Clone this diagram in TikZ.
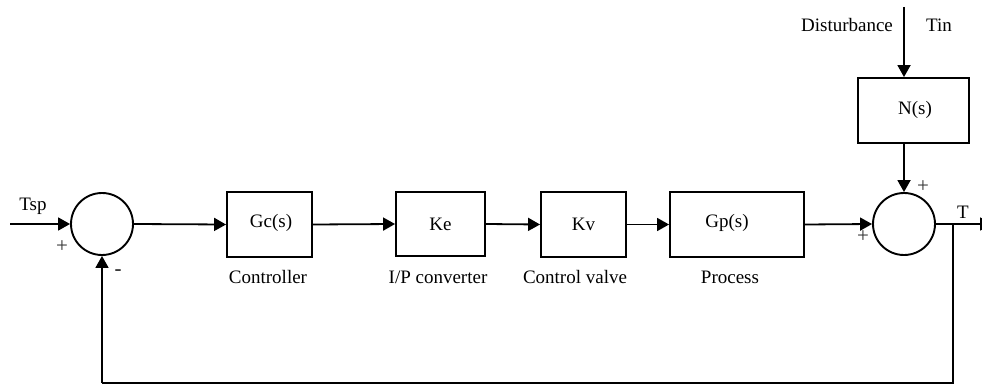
\documentclass[tikz,border=0pt]{standalone}
\usepackage{fontspec}
\setmainfont{Liberation Serif}
\usetikzlibrary{arrows.meta}
\begin{document}
\begin{tikzpicture}[x=1pt,y=-1pt,
  blk/.style={draw,line width=1.9pt,inner sep=0pt,font=\fontsize{19}{22}\selectfont},
  sumc/.style={draw,circle,line width=1.9pt,minimum size=62pt,inner sep=0pt},
  lbl/.style={font=\fontsize{19}{22}\selectfont,inner sep=0pt},
  sgn/.style={font=\fontsize{21}{24}\selectfont,inner sep=0pt,text=black!80},
  conn/.style={line width=1.8pt,-{Triangle[length=12pt,width=13pt]}},
  wire/.style={line width=1.8pt}]
\useasboundingbox (0,0) rectangle (982,385);
% summing junctions
\node[sumc] (s1) at (102,224) {};
\node[sumc] (s2) at (904,224) {};
% blocks
\node[blk,minimum width=85pt,minimum height=65pt] (gc) at (269.5,224.5) {};
\node[lbl] at (271,223) {Gc(s)};
\node[blk,minimum width=89pt,minimum height=64pt] (ke) at (440.5,224) {Ke};
\node[blk,minimum width=85pt,minimum height=65pt] (kv) at (583.5,224.5) {Kv};
\node[blk,minimum width=134pt,minimum height=65pt] (gp) at (737,224.5) {};
\node[lbl] at (727,223) {Gp(s)};
\node[blk,minimum width=111pt,minimum height=65pt] (ns) at (913.5,110.5) {};
\node[lbl] at (915,110) {N(s)};
% labels
\node[lbl] (lc) at (268,277) {Controller};
\node[lbl] (li) at (438,277) {I/P converter};
\node[lbl] (lv) at (575,277) {Control valve};
\node[lbl] (lp) at (730,277) {Process};
\node[lbl] (tsp) at (33,206) {Tsp};
\node[lbl] (dist) at (847,25) {Disturbance};
\node[lbl] (tin) at (939,25) {Tin};
\node[lbl] (tout) at (963,212) {T};
\node[sgn] (p1) at (62,247) {+};
\node[sgn,font=\fontsize{21}{24}\bfseries] (m1) at (118,273) {-};
\node[sgn] (p2) at (923,187) {+};
\node[sgn] (p3) at (863,237) {+};
% coordinates
\coordinate (in) at (10,224);
\coordinate (dtop) at (904,7);
\coordinate (br) at (953,224);
\coordinate (out) at (992,224);
\coordinate (bl) at (102,383);
\coordinate (brb) at (953,383);
% connectors
\draw[conn] (in) -- (s1.west);
\draw[conn] (s1.east) -- (gc.west);
\draw[conn] (gc.east) -- (ke.west);
\draw[conn] (ke.east) -- (kv.west);
\draw[conn] (kv.east) -- (gp.west);
\draw[conn] (gp.east) -- (s2.west);
\draw[conn] (dtop) -- (dtop |- ns.north);
\draw[conn] (ns.south -| s2) -- (s2.north);
\draw[conn] (s2.east) -- (out);
\draw[wire] (br) -- (brb) -- (bl);
\draw[conn] (bl) -- (s1.south);
\end{tikzpicture}
\end{document}
